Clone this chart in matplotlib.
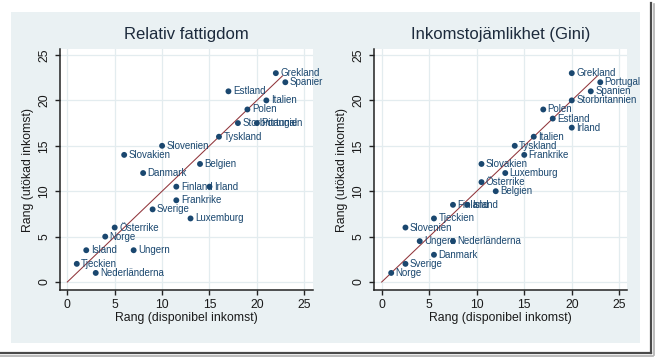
import matplotlib
matplotlib.use("Agg")
import matplotlib.pyplot as plt
from matplotlib.patches import Rectangle
from matplotlib.lines import Line2D

plt.rcParams['font.family'] = ['Liberation Sans', 'DejaVu Sans']

# ---- data ----
titles = ["Relativ fattigdom", "Inkomstojämlikhet (Gini)"]
xlabel = "Rang (disponibel inkomst)"
ylabel = "Rang (utökad inkomst)"
ticks = [0, 5, 10, 15, 20, 25]
line_range = [0, 22.7]

countries_pov = ["Grekland", "Spanier", "Estland", "Italien", "Polen", "Storbritannien",
                 "Portugal", "Tyskland", "Slovenien", "Slovakien", "Belgien", "Danmark",
                 "Finland", "Irland", "Frankrike", "Sverige", "Luxemburg", "Österrike",
                 "Norge", "Island", "Ungern", "Tjeckien", "Nederländerna"]
x_pov = [22, 23, 17, 21, 19, 18, 20, 16, 10, 6, 14, 8, 11.5, 15, 11.5, 9, 13, 5, 4, 2, 7, 1, 3]
y_pov = [23, 22, 21, 20, 19, 17.5, 17.5, 16, 15, 14, 13, 12, 10.5, 10.5, 9, 8, 7, 6, 5, 3.5, 3.5, 2, 1]

countries_gini = ["Grekland", "Portugal", "Spanien", "Storbritannien", "Polen", "Estland",
                  "Irland", "Italien", "Tyskland", "Frankrike", "Slovakien", "Luxemburg",
                  "Österrike", "Belgien", "Finland", "Island", "Tjeckien", "Slovenien",
                  "Ungern", "Nederländerna", "Danmark", "Sverige", "Norge"]
x_gini = [20, 23, 22, 20, 17, 18, 20, 16, 14, 15, 10.5, 13, 10.5, 12, 7.5, 9, 5.5, 2.5, 4, 7.5, 5.5, 2.5, 1]
y_gini = [23, 22, 21, 20, 19, 18, 17, 16, 15, 14, 13, 12, 11, 10, 8.5, 8.5, 7, 6, 4.5, 4.5, 3, 2, 1]

panels = [(countries_pov, x_pov, y_pov), (countries_gini, x_gini, y_gini)]

# ---- style ----
W, H = 655, 359
bg = '#eaf1f3'
navy = '#1a476f'
maroon = '#90353b'
grid_c = '#e3ecef'
txt = '#1a1a1a'

fig = plt.figure(figsize=(W / 100, H / 100), dpi=100)
fig.patch.set_facecolor('white')
fig.patches.append(Rectangle((11 / W, 1 - 343 / H), (640 - 11) / W, (343 - 12) / H,
                             transform=fig.transFigure, facecolor=bg, edgecolor='none', zorder=-5))
# screenshot frame shadow
fig.lines.append(Line2D([651 / W, 651 / W], [1 - 3 / H, 1 - 353 / H], transform=fig.transFigure,
                        color='#4a4a4a', lw=1.6))
fig.lines.append(Line2D([0, 651 / W], [1 - 353 / H, 1 - 353 / H], transform=fig.transFigure,
                        color='#4a4a4a', lw=1.6))
fig.lines.append(Line2D([0, 653 / W], [1 - 355.5 / H, 1 - 355.5 / H], transform=fig.transFigure,
                        color='#b0b0b0', lw=1.2))
fig.lines.append(Line2D([653.5 / W, 653.5 / W], [1 - 4 / H, 1 - 355 / H], transform=fig.transFigure,
                        color='#b0b0b0', lw=1.2))

axes_px = [(60, 313, -0.77, 25.92), (374, 626.7, -0.81, 25.78)]
top_px, bot_px = 49, 290

for (left, right, x0, x1), title, (names, xs, ys) in zip(axes_px, titles, panels):
    ax = fig.add_axes([left / W, 1 - bot_px / H, (right - left) / W, (bot_px - top_px) / H])
    ax.set_facecolor('white')
    ax.set_xlim(x0, x1)
    ax.set_ylim(-0.88, 25.66)
    ax.set_xticks(ticks)
    ax.set_yticks(ticks)
    ax.grid(True, color=grid_c, lw=0.9)
    ax.set_axisbelow(True)
    for s in ['top', 'right']:
        ax.spines[s].set_visible(False)
    for s in ['left', 'bottom']:
        ax.spines[s].set_color('#222222')
        ax.spines[s].set_linewidth(1.1)
    ax.tick_params(axis='both', length=3.6, width=1.0, color='#222222', labelsize=8.8,
                   labelcolor=txt, pad=3.2)
    for lab in ax.get_yticklabels():
        lab.set_rotation(90)
        lab.set_va('center')
    ax.set_xlabel(xlabel, fontsize=8.8, color=txt, labelpad=0.5)
    ax.set_ylabel(ylabel, fontsize=8.8, color=txt, labelpad=3)
    ax.set_title(title, fontsize=12, color='#1c2a3c', pad=7)

    ax.plot(line_range, line_range, color=maroon, lw=0.75, zorder=2)
    ax.scatter(xs, ys, s=18, color=navy, edgecolors='none', zorder=3)
    for n, x, y in zip(names, xs, ys):
        ax.annotate(n, (x, y), xytext=(3.2, 0), textcoords='offset points',
                    ha='left', va='center', fontsize=7, color=navy, zorder=4)

fig.savefig('out.png', dpi=100, facecolor='white')
